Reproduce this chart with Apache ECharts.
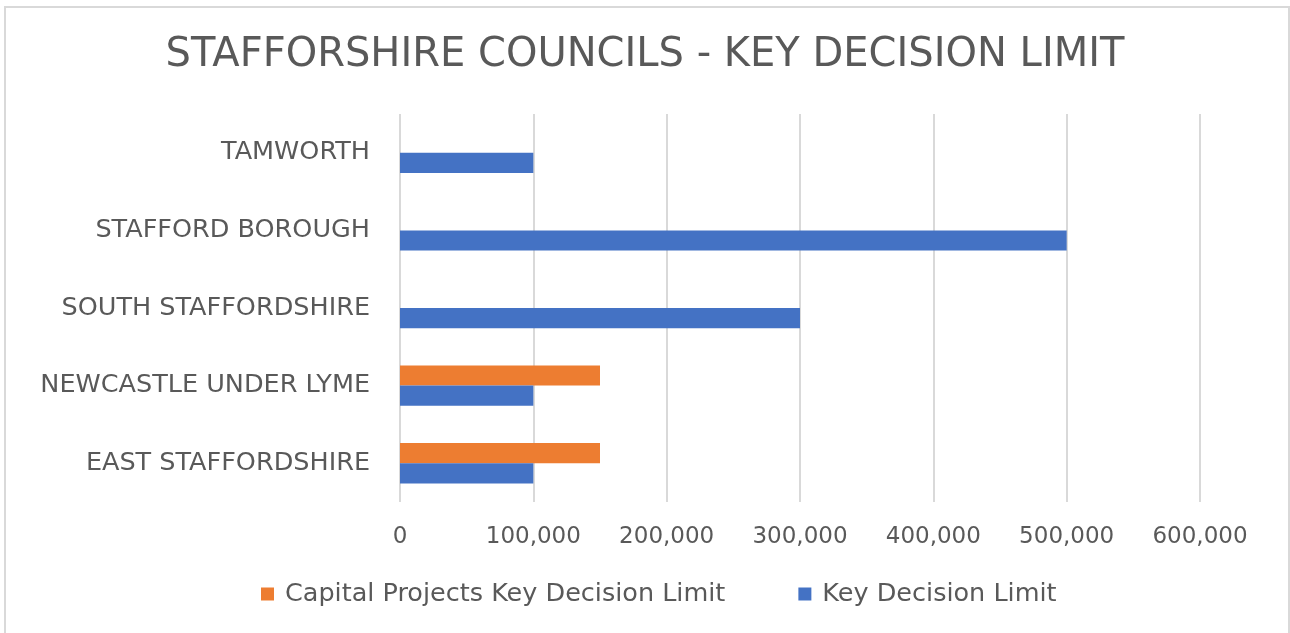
<!DOCTYPE html>
<html>
<head>
<meta charset="utf-8">
<script src="https://cdn.jsdelivr.net/npm/echarts@6/dist/echarts.min.js"></script>
<style>
html,body{margin:0;padding:0;background:#fff;}
#chart{width:1290px;height:633px;}
</style>
</head>
<body>
<div id="chart"></div>
<script>
const titleText = 'STAFFORSHIRE COUNCILS - KEY DECISION LIMIT';
const categories = ['EAST STAFFORDSHIRE', 'NEWCASTLE UNDER LYME', 'SOUTH STAFFORDSHIRE', 'STAFFORD BOROUGH', 'TAMWORTH'];
const capitalProjectsLimit = [150000, 150000, null, null, null];
const keyDecisionLimit = [100000, 100000, 300000, 500000, 100000];
const seriesNames = ['Capital Projects Key Decision Limit', 'Key Decision Limit'];
const xTicks = { min: 0, max: 600000, interval: 100000 };

const chart = echarts.init(document.getElementById('chart'), null, { renderer: 'canvas' });
const font = '"DejaVu Sans", sans-serif';
const textColor = '#595959';
chart.setOption({
  backgroundColor: '#fff',
  animation: false,
  graphic: [{
    type: 'rect', left: 4, top: 6, z: -1,
    shape: { x: 0, y: 0, width: 1284, height: 640 },
    style: { fill: '#fff', stroke: '#d9d9d9', lineWidth: 2 }
  }],
  title: {
    text: titleText, left: 'center', top: 31,
    textStyle: { fontFamily: font, fontSize: 40, fontWeight: 'normal', color: textColor }
  },
  legend: {
    data: seriesNames, bottom: 21, left: 256, itemGap: 73,
    itemWidth: 13, itemHeight: 13, icon: 'rect',
    textStyle: { fontFamily: font, fontSize: 25.5, color: textColor, padding: [0, 0, 0, 6] }
  },
  grid: { left: 400, right: 90, top: 114, bottom: 131 },
  xAxis: {
    type: 'value', min: xTicks.min, max: xTicks.max, interval: xTicks.interval,
    axisLine: { show: false }, axisTick: { show: false },
    splitLine: { lineStyle: { color: '#d9d9d9', width: 2 } },
    axisLabel: {
      fontFamily: font, fontSize: 23, color: textColor, margin: 24,
      formatter: v => v.toLocaleString('en-US')
    }
  },
  yAxis: {
    type: 'category', data: categories,
    axisLine: { show: false }, axisTick: { show: false },
    axisLabel: { fontFamily: font, fontSize: 25.5, color: textColor, margin: 30 }
  },
  series: [
    { name: seriesNames[0], type: 'bar', data: capitalProjectsLimit, itemStyle: { color: '#ED7D31' }, barGap: '0%', barCategoryGap: '48%' },
    { name: seriesNames[1], type: 'bar', data: keyDecisionLimit, itemStyle: { color: '#4472C4' }, barGap: '0%', barCategoryGap: '48%' }
  ]
});
</script>
</body>
</html>
